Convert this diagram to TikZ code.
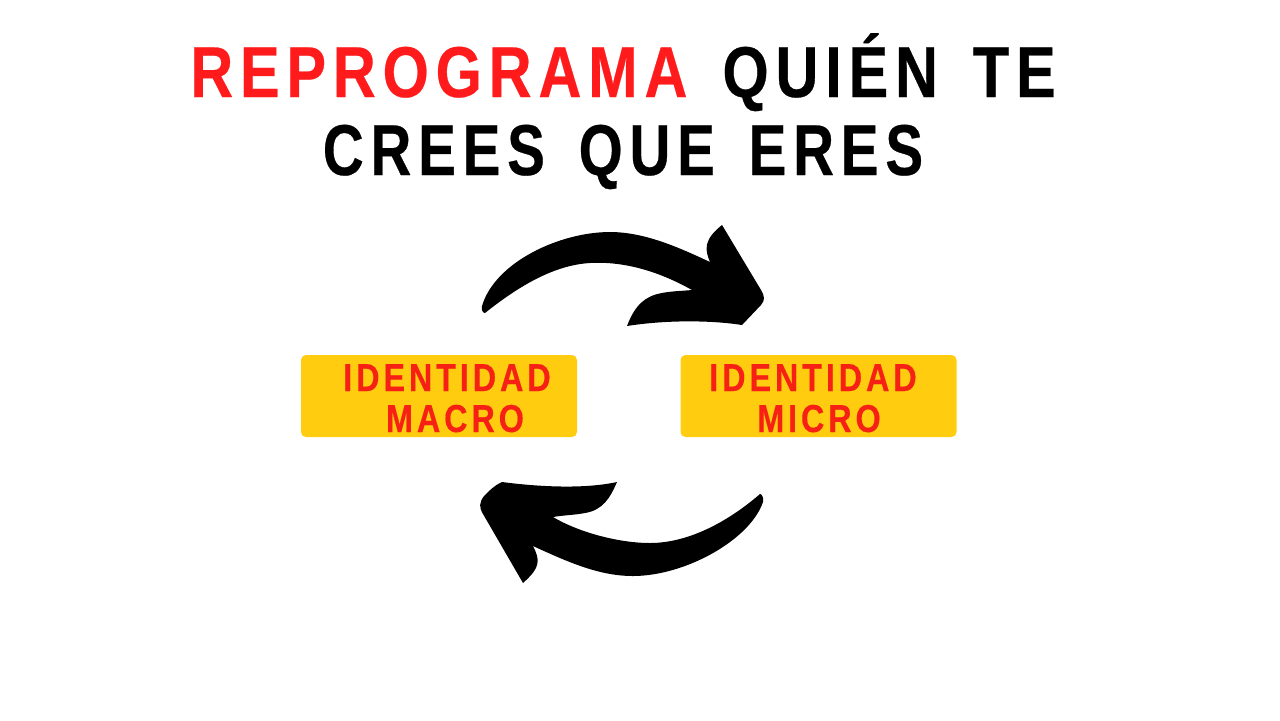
\documentclass[tikz,border=0pt]{standalone}
\usepackage{fontspec}
\setmainfont{Liberation Sans}
\newfontfamily\titlefont[LetterSpace=9.5,FakeStretch=0.825,WordSpace=1.5,FakeBold=0.4]{Liberation Sans Bold}
\newfontfamily\subtitlefont[LetterSpace=9.5,FakeStretch=0.785,WordSpace=1.5,FakeBold=0.4]{Liberation Sans Bold}
\newfontfamily\boxfont[LetterSpace=10,FakeStretch=0.83,FakeBold=0.3]{Liberation Sans Bold}
\definecolor{titlered}{RGB}{255,27,28}
\definecolor{boxred}{RGB}{246,32,20}
\definecolor{boxyellow}{RGB}{255,204,16}
\tikzset{
  idbox/.style={fill=boxyellow, rounded corners=2.5pt, inner sep=0pt, minimum width=138pt, minimum height=41pt},
  idlabel/.style={text=boxred, font=\boxfont\fontsize{19.5}{20}\selectfont, inner sep=0pt, anchor=base},
  titleline/.style={font=\titlefont\fontsize{36}{36}\selectfont, inner sep=0pt, anchor=base},
  subtitleline/.style={font=\subtitlefont\fontsize{36}{36}\selectfont, inner sep=0pt, anchor=base}
}
\begin{document}
\begin{tikzpicture}[x=0.5pt, y=-0.5pt]
    \useasboundingbox (0,0) rectangle (1280,720);

    % Title
    \node[titleline] (titletop) at (623,97) {\textcolor{titlered}{REPROGRAMA} QUIÉN TE};
    \node[subtitleline] (titlebottom) at (623,175) {CREES QUE ERES};

    % Boxes
    \node[idbox] (macrobox) at (439,396) {};
    \node[idbox] (microbox) at (818.5,396) {};

    % Labels
    \node[idlabel] (macrotop) at (447,391) {IDENTIDAD};
    \node[idlabel] (macrobottom) at (455,432) {MACRO};
    \node[idlabel] (microtop) at (813,391) {IDENTIDAD};
    \node[idlabel] (microbottom) at (819,432) {MICRO};

    % Upper arrow
    \fill[black] (482,306) .. controls (495,262) and (560,232) .. (610,232)
        .. controls (645,232) and (680,248) .. (710,262)
        .. controls (705,250) and (703,240) .. (722,225)
        -- (761,290) .. controls (765,297) and (765,300) .. (761,305)
        -- (742,325) .. controls (710,320) and (665,320) .. (627,326)
        .. controls (635,305) and (645,296) .. (662,293)
        .. controls (672,291) and (682,291) .. (692,290)
        .. controls (660,272) and (625,261) .. (590,263)
        .. controls (555,265) and (520,285) .. (485,313)
        .. controls (483,313) and (481,310) .. (482,306) -- cycle;

    % Lower arrow
    \fill[black] (763,502) .. controls (750,540) and (685,576) .. (633,576)
        .. controls (600,576) and (570,563) .. (533,546)
        .. controls (540,560) and (541,567) .. (523,583)
        -- (483,514) .. controls (479,507) and (479,503) .. (484,496)
        .. controls (490,490) and (495,485) .. (502,482)
        .. controls (540,487) and (585,489) .. (617,482)
        .. controls (610,498) and (603,510) .. (585,513)
        .. controls (575,515) and (565,515) .. (553,517)
        .. controls (580,533) and (620,543) .. (650,543)
        .. controls (690,543) and (730,520) .. (760,494)
        .. controls (762,494) and (764,498) .. (763,502) -- cycle;

\end{tikzpicture}
\end{document}
